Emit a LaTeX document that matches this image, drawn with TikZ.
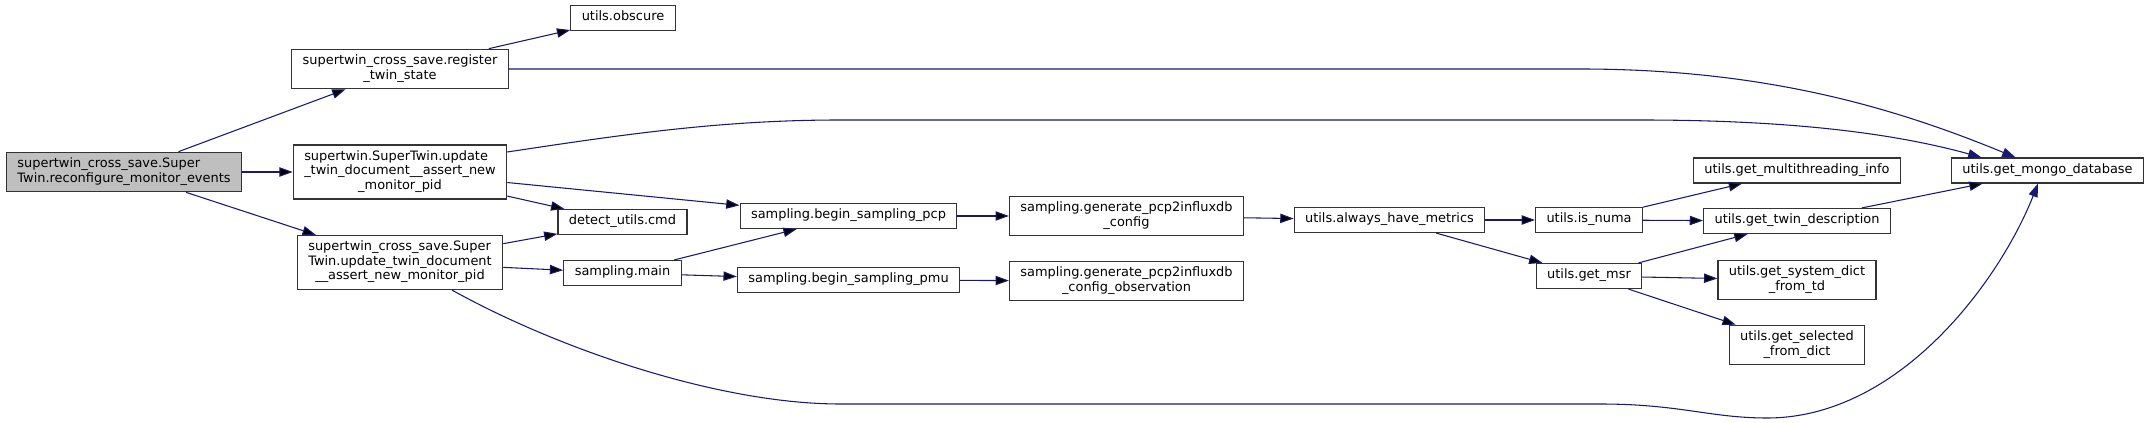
\documentclass[tikz,border=0pt]{standalone}
\usepackage{fontspec}
\setmainfont{DejaVu Sans}
\usetikzlibrary{arrows.meta, calc}
\definecolor{edgeblue}{HTML}{191970}
\definecolor{boxline}{HTML}{333333}
\definecolor{rootfill}{HTML}{BFBFBF}
% wrapped label: first lines left, last line centred
\newcommand{\lbl}[2]{\begin{tabular}{@{}l@{}}#1\\\multicolumn{1}{@{}c@{}}{#2}\end{tabular}}
\tikzset{
  >={Triangle[length=10pt,width=7pt]},
  func/.style={draw=boxline, line width=0.9pt, fill=white, inner xsep=8.2pt, inner ysep=3.9pt,
    font=\fontsize{9.7}{10.9}\selectfont},
  rootfunc/.style={func, fill=rootfill},
  call/.style={->, draw=edgeblue, line width=0.8pt},
}

\begin{document}
\begin{tikzpicture}[x=0.75pt,y=-0.75pt]
      \useasboundingbox (0,0) rectangle (2151,423);

      \node[rootfunc] (root)     at (124,172)    {\lbl{supertwin\_cross\_save.Super}{Twin.reconfigure\_monitor\_events}};
      \node[func]     (register) at (400,69)     {\lbl{supertwin\_cross\_save.register}{\_twin\_state}};
      \node[func]     (obscure)  at (623,18)     {\strut utils.obscure};
      \node[func]     (STupdate) at (400,172)    {\lbl{supertwin.SuperTwin.update\\\_twin\_document\_\_assert\_new}{\_monitor\_pid}};
      \node[func]     (CSupdate) at (400,262.5)  {\lbl{supertwin\_cross\_save.Super\\Twin.update\_twin\_document}{\_\_assert\_new\_monitor\_pid}};
      \node[func]     (cmd)      at (622.5,222)  {\strut detect\_utils.cmd};
      \node[func]     (main)     at (622.5,273)  {\strut sampling.main};
      \node[func]     (pcp)      at (848.5,216)  {\strut sampling.begin\_sampling\_pcp};
      \node[func]     (pmu)      at (848.5,280)  {\strut sampling.begin\_sampling\_pmu};
      \node[func]     (genconf)  at (1126.5,216) {\lbl{sampling.generate\_pcp2influxdb}{\_config}};
      \node[func]     (genobs)   at (1126.5,281) {\lbl{sampling.generate\_pcp2influxdb}{\_config\_observation}};
      \node[func]     (metrics)  at (1389.5,220) {\strut utils.always\_have\_metrics};
      \node[func]     (numa)     at (1589,220)   {\strut utils.is\_numa};
      \node[func]     (msr)      at (1589,276)   {\strut utils.get\_msr};
      \node[func]     (mthread)  at (1797,170.5) {\strut utils.get\_multithreading\_info};
      \node[func]     (twindesc) at (1797,221)   {\strut utils.get\_twin\_description};
      \node[func]     (sysdict)  at (1797,280)   {\lbl{utils.get\_system\_dict}{\_from\_td}};
      \node[func]     (seldict)  at (1797,345)   {\lbl{utils.get\_selected}{\_from\_dict}};
      \node[func]     (mongo)    at (2047.5,170.5) {\strut utils.get\_mongo\_database};

      \draw[call] (root)     edge (register)
                  (root)     edge (STupdate)
                  (root)     edge (CSupdate)
                  (register) edge (obscure)
                  (STupdate) edge (cmd)
                  (STupdate) edge (pcp)
                  (CSupdate) edge (cmd)
                  (CSupdate) edge (main)
                  (main)     edge (pcp)
                  (main)     edge (pmu)
                  (pcp)      edge (genconf)
                  (pmu)      edge (genobs)
                  (genconf)  edge (metrics)
                  (metrics)  edge (numa)
                  (metrics)  edge (msr)
                  (numa)     edge (mthread)
                  (numa)     edge (twindesc)
                  (msr)      edge (twindesc)
                  (msr)      edge (sysdict)
                  (msr)      edge (seldict)
                  (twindesc) edge (mongo);

      % long calls into utils.get_mongo_database
      \draw[call] (register.east) -- (1580,69) .. controls (1770,69) and (1900,110) .. ($(mongo.north)+(-32,0)$);
      \draw[call] ($(STupdate.east)+(0,-20)$) .. controls (620,135) and (720,120) .. (840,120)
                  -- (1640,120) .. controls (1800,120) and (1900,135) .. ($(mongo.north)+(-66,0)$);
      \draw[call] ($(CSupdate.south)+(52,0)$) .. controls (560,350) and (720,404) .. (840,404)
                  -- (1600,404) .. controls (1680,404) and (1710,418) .. (1767,418)
                  .. controls (1900,418) and (2000,280) .. ($(mongo.south)+(-9.5,0)$);
\end{tikzpicture}
\end{document}
